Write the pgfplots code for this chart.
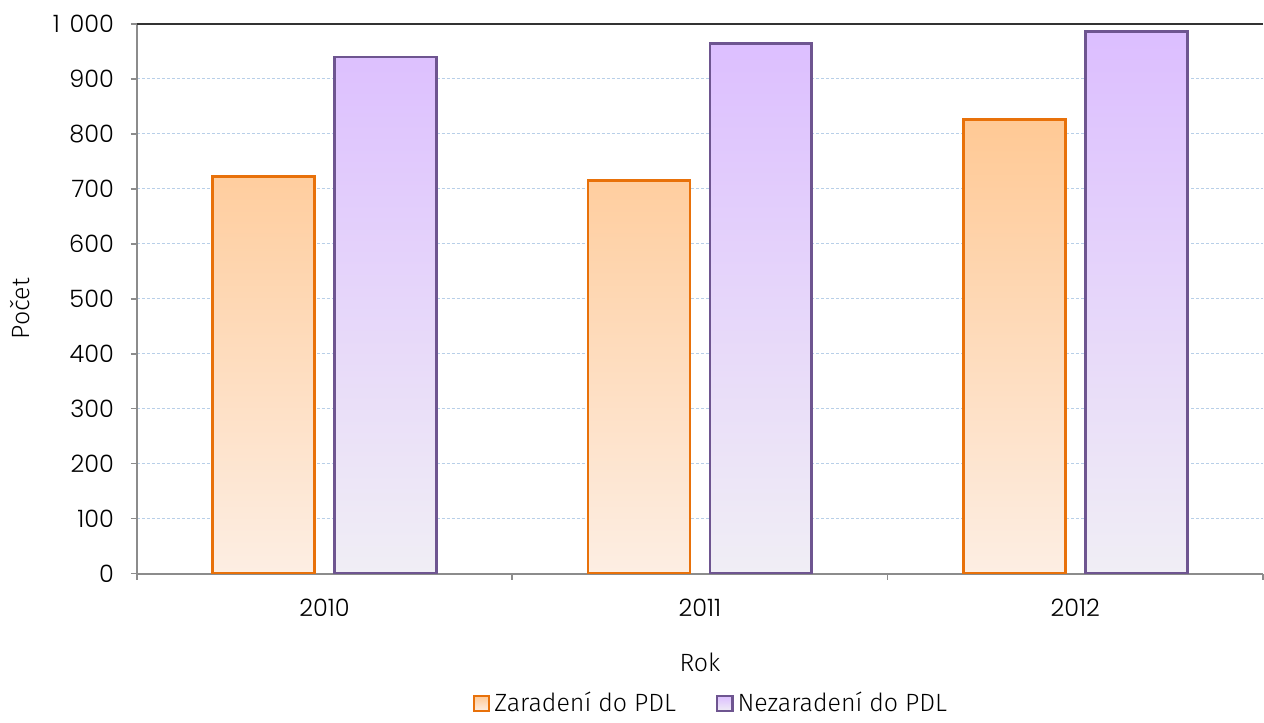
\documentclass[border=0pt]{standalone}
\usepackage{pgfplots}
\pgfplotsset{compat=1.18}
\usepackage{fontspec}
\setmainfont{Fira Sans}[UprightFont=* Light]
\newfontfamily\tickfont{Poppins}[UprightFont=* Light]
\definecolor{orEdge}{HTML}{E8710A}
\definecolor{orTop}{HTML}{FFC995}
\definecolor{orBot}{HTML}{FDEEE3}
\definecolor{puEdge}{HTML}{6E5590}
\definecolor{puTop}{HTML}{DCBEFF}
\definecolor{puBot}{HTML}{F0EEF5}
\definecolor{gridc}{HTML}{B8CFE8}
\begin{document}
\begin{tikzpicture}
\begin{axis}[
  scale only axis,
  width=563.5pt, height=275pt,
  ymin=0, ymax=1000,
  xmin=-0.5, xmax=2.5,
  ytick={0,100,...,1000},
  yticklabels={0,100,200,300,400,500,600,700,800,900,1\hspace{0.4em}000},
  xtick={-0.5,0.5,1.5,2.5},
  x tick label as interval,
  xticklabels={2010,2011,2012},
  axis x line*=bottom,
  axis y line*=left,
  axis line style={draw=gray!90, line width=1pt, -},
  tick style={draw=gray!90, line width=0.8pt},
  major tick length=3pt,
  tick align=outside,
  ymajorgrids,
  grid style={dash pattern=on 1.5pt off 1pt, draw=gridc, line width=0.5pt},
  ticklabel style={font=\tickfont\fontsize{12}{14}\selectfont},
  yticklabel style={xshift=-5pt},
  xticklabel style={yshift=-6pt},
  ylabel={Počet},
  every axis y label/.style={at={(rel axis cs:0,0.5)}, xshift=-58.5pt, yshift=-5pt, rotate=90, anchor=center,
    font=\fontsize{12.5}{14}\selectfont},
  xlabel={Rok},
  every axis x label/.style={at={(rel axis cs:0.5,0)}, yshift=-44.5pt, anchor=center,
    font=\fontsize{12.5}{14}\selectfont},
  ybar, bar width=51pt,
  legend style={at={(0.5,-0.2364)}, anchor=center, xshift=6pt, draw=none, legend columns=2,
    font=\fontsize{12.5}{14}\selectfont,
    /tikz/every even column/.append style={column sep=18pt}},
  legend image code/.code={\draw[#1, line width=1.2pt] (0pt,-3.8pt) rectangle (7.6pt,3.8pt);},
  after end axis/.code={
    \draw[black!80, line width=1pt] (rel axis cs:0,1) -- (rel axis cs:1,1);
    \path (rel axis cs:0,1) ++(-68.5pt,12pt) coordinate (bbA);
    \path (rel axis cs:1,0) ++(0pt,-72pt) coordinate (bbB);
    \path (bbA) rectangle (bbB);
  },
]
\addplot[bar shift=-30.5pt, draw=orEdge, line width=1.4pt, top color=orTop, bottom color=orBot]
  coordinates {(0,722) (1,715) (2,826)};
\addplot[bar shift=30.5pt, draw=puEdge, line width=1.4pt, top color=puTop, bottom color=puBot]
  coordinates {(0,940) (1,965) (2,986)};
\legend{Zaradení do PDL, Nezaradení do PDL}
\end{axis}
\end{tikzpicture}
\end{document}
